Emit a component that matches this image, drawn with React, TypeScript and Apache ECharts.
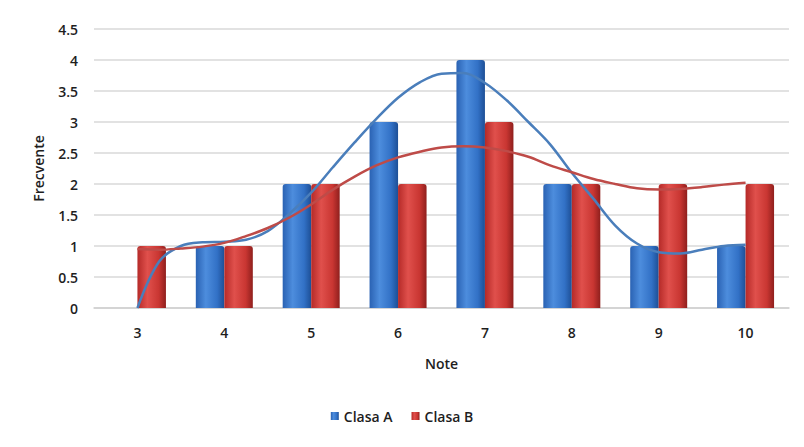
import React, { useEffect, useRef } from "react";
import * as echarts from "echarts";

const categories = ["3", "4", "5", "6", "7", "8", "9", "10"];
const clasaA = [0, 1, 2, 3, 4, 2, 1, 1];
const clasaB = [1, 1, 2, 2, 3, 2, 2, 2];
const yTicks = [0, 0.5, 1, 1.5, 2, 2.5, 3, 3.5, 4, 4.5];

// Trend curves at quarter-note positions
const trendX = [
  3, 3.25, 3.5, 3.75, 4, 4.25, 4.5, 4.75, 5, 5.25, 5.5, 5.75, 6, 6.25, 6.5,
  6.75, 7, 7.25, 7.5, 7.75, 8, 8.25, 8.5, 8.75, 9, 9.25, 9.5, 9.75, 10,
];
const trendA = [
  0.0, 0.75, 1.0, 1.06, 1.07, 1.1, 1.24, 1.52, 1.86, 2.27, 2.67, 3.05, 3.39,
  3.64, 3.78, 3.79, 3.63, 3.35, 3.0, 2.64, 2.18, 1.76, 1.33, 1.04, 0.9, 0.88,
  0.94, 1.0, 1.02,
];
const trendB = [
  0.95, 0.94, 0.96, 0.99, 1.05, 1.16, 1.29, 1.46, 1.67, 1.91, 2.12, 2.3, 2.43,
  2.52, 2.59, 2.61, 2.59, 2.53, 2.44, 2.3, 2.19, 2.08, 2.0, 1.93, 1.91, 1.92,
  1.95, 1.99, 2.02,
];

const FONT = "'Open Sans', 'Noto Sans', sans-serif";
const TXT = "#1e1e1e";

const blueGrad = new echarts.graphic.LinearGradient(0, 0, 1, 0, [
  { offset: 0, color: "#2a62b3" },
  { offset: 0.35, color: "#4d8ddd" },
  { offset: 0.75, color: "#3271c6" },
  { offset: 1, color: "#1d4f96" },
]);
const redGrad = new echarts.graphic.LinearGradient(0, 0, 1, 0, [
  { offset: 0, color: "#b52a28" },
  { offset: 0.35, color: "#e0504c" },
  { offset: 0.75, color: "#c93632" },
  { offset: 1, color: "#8f1f1d" },
]);

export default function App() {
  const ref = useRef<HTMLDivElement>(null);
  useEffect(() => {
    if (!ref.current) return;
    const chart = echarts.init(ref.current, undefined, { renderer: "svg" });
    const lo = Number(categories[0]) - 0.5;
    const hi = Number(categories[categories.length - 1]) + 0.5;
    chart.setOption({
      animation: false,
      backgroundColor: "#ffffff",
      grid: { left: 94, right: 15, top: 29, bottom: 139, containLabel: false },
      legend: {
        data: ["Clasa A", "Clasa B"],
        bottom: 19,
        left: "center",
        itemWidth: 8,
        itemHeight: 8,
        itemGap: 19,
        icon: "rect",
        textStyle: { fontFamily: FONT, fontSize: 14, color: TXT, fontWeight: 600 },
      },
      xAxis: [
        {
          type: "category",
          data: categories,
          name: "Note",
          nameLocation: "middle",
          nameGap: 48,
          nameTextStyle: { fontFamily: FONT, fontSize: 14, color: TXT, fontWeight: 600 },
          axisLine: { lineStyle: { color: "#cfcfcf", width: 1.5 } },
          axisTick: { show: false },
          axisLabel: { fontFamily: FONT, fontSize: 14, color: TXT, fontWeight: 600, margin: 17 },
        },
        {
          type: "value",
          min: lo,
          max: hi,
          show: false,
        },
      ],
      yAxis: {
        type: "value",
        min: yTicks[0],
        max: yTicks[yTicks.length - 1],
        interval: 0.5,
        name: "Frecvente",
        nameLocation: "middle",
        nameGap: 49,
        nameTextStyle: { fontFamily: FONT, fontSize: 14, color: TXT, fontWeight: 600 },
        axisLine: { show: false },
        axisTick: { show: false },
        splitLine: { lineStyle: { color: "#d9d9d9", width: 1.5 } },
        axisLabel: { fontFamily: FONT, fontSize: 14, color: TXT, fontWeight: 600, margin: 16 },
      },
      series: [
        {
          name: "Clasa A",
          type: "bar",
          data: clasaA,
          barWidth: 28.5,
          barGap: "0%",
          itemStyle: { color: blueGrad, borderRadius: [3, 3, 0, 0] },
        },
        {
          name: "Clasa B",
          type: "bar",
          data: clasaB,
          barWidth: 28.5,
          barGap: "0%",
          itemStyle: { color: redGrad, borderRadius: [3, 3, 0, 0] },
        },
        {
          name: "Trend A",
          type: "line",
          xAxisIndex: 1,
          data: trendX.map((x, i) => [x, trendA[i]]),
          smooth: 0.35,
          showSymbol: false,
          symbol: "none",
          lineStyle: { color: "#4a7ebb", width: 2.5 },
          z: 5,
        },
        {
          name: "Trend B",
          type: "line",
          xAxisIndex: 1,
          data: trendX.map((x, i) => [x, trendB[i]]),
          smooth: 0.35,
          showSymbol: false,
          symbol: "none",
          lineStyle: { color: "#be4b48", width: 2.5 },
          z: 5,
        },
      ],
    });
    return () => chart.dispose();
  }, []);
  return (
    <div style={{ position: "relative", width: 804, height: 447, margin: -8 }}>
      <div ref={ref} style={{ width: 804, height: 447 }} />
      <div
        style={{
          position: "absolute",
          left: 3,
          top: 4,
          width: 795,
          height: 436,
          border: "2px solid #e0e0e0",
          pointerEvents: "none",
        }}
      />
    </div>
  );
}
